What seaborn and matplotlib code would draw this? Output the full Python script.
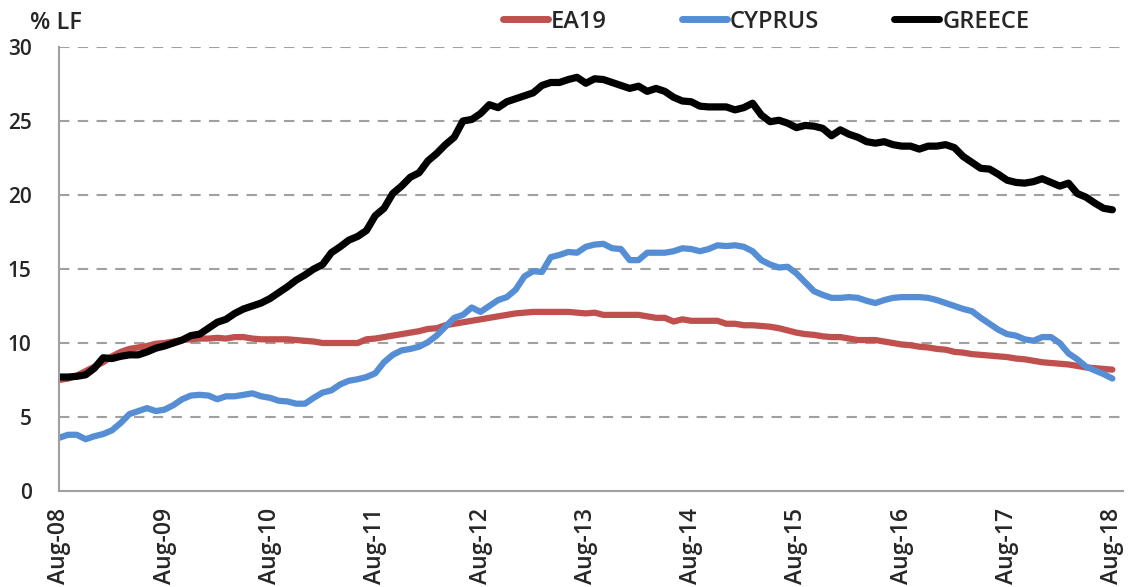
import pandas as pd
import seaborn as sns
import matplotlib.pyplot as plt

# monthly unemployment rate, % of labour force, Aug-08 .. Aug-18
months = pd.date_range('2008-08-01', '2018-08-01', freq='MS')

ea19 = [7.5, 7.6, 7.8, 8.1, 8.4, 8.7, 9.1, 9.4, 9.6, 9.7, 9.8, 9.95,
        10.0, 10.1, 10.2, 10.25, 10.3, 10.3, 10.35, 10.3, 10.4, 10.4, 10.3, 10.25,
        10.25, 10.25, 10.25, 10.2, 10.15, 10.1, 10.0, 10.0, 10.0, 10.0, 10.0, 10.25,
        10.3, 10.4, 10.5, 10.6, 10.7, 10.8, 10.95, 11.0, 11.2, 11.3, 11.4, 11.5,
        11.6, 11.7, 11.8, 11.9, 12.0, 12.05, 12.1, 12.1, 12.1, 12.1, 12.1, 12.05,
        12.0, 12.05, 11.9, 11.9, 11.9, 11.9, 11.9, 11.8, 11.7, 11.7, 11.45, 11.6,
        11.5, 11.5, 11.5, 11.5, 11.3, 11.3, 11.2, 11.2, 11.15, 11.1, 11.0, 10.85,
        10.7, 10.6, 10.55, 10.45, 10.4, 10.4, 10.3, 10.2, 10.2, 10.2, 10.1, 10.0,
        9.9, 9.85, 9.75, 9.7, 9.6, 9.55, 9.4, 9.35, 9.25, 9.2, 9.15, 9.1,
        9.05, 8.95, 8.9, 8.8, 8.7, 8.65, 8.6, 8.55, 8.45, 8.35, 8.3, 8.25,
        8.2]

cyprus = [3.6, 3.8, 3.8, 3.5, 3.7, 3.85, 4.1, 4.6, 5.2, 5.4, 5.6, 5.4,
          5.5, 5.8, 6.2, 6.45, 6.5, 6.45, 6.2, 6.4, 6.4, 6.5, 6.6, 6.4,
          6.3, 6.1, 6.05, 5.9, 5.9, 6.3, 6.65, 6.8, 7.2, 7.45, 7.55, 7.7,
          7.95, 8.7, 9.2, 9.5, 9.6, 9.75, 10.05, 10.5, 11.1, 11.7, 11.9, 12.4,
          12.1, 12.5, 12.9, 13.1, 13.6, 14.5, 14.85, 14.8, 15.8, 15.95, 16.15, 16.1,
          16.5, 16.65, 16.7, 16.4, 16.35, 15.6, 15.6, 16.1, 16.1, 16.1, 16.2, 16.4,
          16.35, 16.2, 16.35, 16.6, 16.55, 16.6, 16.5, 16.2, 15.6, 15.3, 15.1, 15.15,
          14.7, 14.1, 13.5, 13.25, 13.05, 13.05, 13.1, 13.05, 12.85, 12.7, 12.9, 13.05,
          13.1, 13.1, 13.1, 13.05, 12.9, 12.7, 12.5, 12.3, 12.15, 11.7, 11.3, 10.9,
          10.6, 10.5, 10.25, 10.15, 10.4, 10.4, 10.0, 9.3, 8.9, 8.4, 8.15, 7.9,
          7.6]

greece = [7.7, 7.7, 7.75, 7.85, 8.3, 9.0, 8.95, 9.1, 9.2, 9.2, 9.4, 9.65,
          9.8, 10.0, 10.2, 10.5, 10.6, 11.0, 11.4, 11.6, 12.0, 12.3, 12.5, 12.7,
          13.0, 13.4, 13.8, 14.25, 14.6, 15.0, 15.3, 16.1, 16.5, 16.95, 17.2, 17.6,
          18.6, 19.1, 20.1, 20.6, 21.2, 21.5, 22.3, 22.8, 23.4, 23.9, 25.0, 25.1,
          25.5, 26.1, 25.9, 26.3, 26.5, 26.7, 26.9, 27.4, 27.6, 27.6, 27.8, 27.95,
          27.55, 27.85, 27.8, 27.6, 27.4, 27.2, 27.35, 27.0, 27.2, 27.0, 26.6, 26.35,
          26.3, 26.0, 25.95, 25.95, 25.95, 25.75, 25.9, 26.2, 25.4, 24.95, 25.05, 24.85,
          24.55, 24.7, 24.65, 24.5, 24.0, 24.4, 24.1, 23.9, 23.6, 23.5, 23.6, 23.4,
          23.3, 23.3, 23.1, 23.3, 23.3, 23.4, 23.2, 22.6, 22.2, 21.8, 21.75, 21.4,
          21.0, 20.85, 20.8, 20.9, 21.1, 20.85, 20.6, 20.8, 20.1, 19.85, 19.45, 19.1,
          19.0]

tick_labels = ['Aug-08', 'Aug-09', 'Aug-10', 'Aug-11', 'Aug-12', 'Aug-13',
               'Aug-14', 'Aug-15', 'Aug-16', 'Aug-17', 'Aug-18']

df = pd.DataFrame({'i': range(len(months)), 'EA19': ea19,
                   'CYPRUS': cyprus, 'GREECE': greece})
long = df.melt(id_vars='i', var_name='series', value_name='rate')

sns.set_style('white')
plt.rcParams['font.family'] = ['Open Sans', 'DejaVu Sans']

fig = plt.figure(figsize=(11.4, 5.87), dpi=100)
ax = fig.add_axes([0.052, 0.1635, 0.933, 0.7565])

palette = {'EA19': '#C0504D', 'CYPRUS': '#558ED5', 'GREECE': '#000000'}
sns.lineplot(data=long, x='i', y='rate', hue='series', palette=palette,
             size='series', sizes={'EA19': 4.5, 'CYPRUS': 4.5, 'GREECE': 5.2},
             ax=ax, legend=False)
for ln in ax.lines:
    ln.set_solid_capstyle('round')
    ln.set_solid_joinstyle('round')

ax.set_xlim(0, 121.2)
ax.set_ylim(0, 30)
ax.set_yticks(range(0, 31, 5))
ax.set_xticks(range(0, 121, 12))
ax.set_xticklabels(tick_labels, rotation=90)
ax.set_xlabel('')
ax.set_ylabel('')
ax.tick_params(axis='both', length=0)
ax.tick_params(axis='y', pad=20, labelsize=15)
ax.tick_params(axis='x', pad=12, labelsize=16.5)
for lab in ax.get_xticklabels() + ax.get_yticklabels():
    lab.set_fontweight('semibold')

for y in range(5, 31, 5):
    ax.axhline(y, color='#a0a0a0', lw=1.5, ls=(0, (5, 4)), zorder=0)

for side in ['top', 'right']:
    ax.spines[side].set_visible(False)
for side in ['left', 'bottom']:
    ax.spines[side].set_color('#a0a0a0')
    ax.spines[side].set_linewidth(1.5)

handles = [plt.Line2D([], [], color=palette[k], lw=5, solid_capstyle='round')
           for k in ['EA19', 'CYPRUS', 'GREECE']]
fig.legend(handles, ['EA19', 'CYPRUS', 'GREECE'], loc='center',
           bbox_to_anchor=(0.672, 0.963), ncol=3, frameon=False,
           handlelength=1.9, handletextpad=0.12, columnspacing=3.2,
           prop={'size': 17, 'weight': 'semibold'})

fig.text(0.026, 0.96, '% LF', fontsize=17, fontweight='semibold', va='center')

fig.savefig('out.png', dpi=100)
